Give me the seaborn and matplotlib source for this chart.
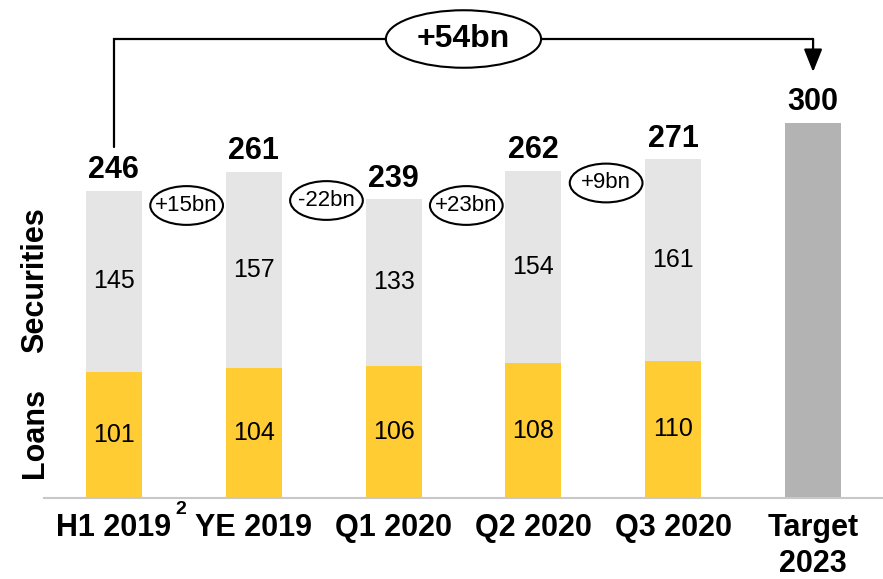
import numpy as np
import pandas as pd
import matplotlib.pyplot as plt
import seaborn as sns
from matplotlib.patches import Ellipse

# Daten (in bn)
periods = ["H1 2019", "YE 2019", "Q1 2020", "Q2 2020", "Q3 2020", "Target\n2023"]
totals = [246, 261, 239, 262, 271, 300]
loans = [101, 104, 106, 108, 110, np.nan]
securities = [145, 157, 133, 154, 161, np.nan]

sns.set_style("white")
plt.rcParams['font.family'] = ['Liberation Sans', 'DejaVu Sans']
plt.rcParams['text.color'] = 'black'
plt.rcParams['xtick.color'] = 'black'

YELLOW = '#FFCC33'
LIGHT = '#E5E5E5'
DARK = '#B3B3B3'

df = pd.DataFrame({'period': periods, 'total': totals, 'loans': loans, 'securities': securities})

fig = plt.figure(figsize=(8.83, 5.79), dpi=100)
ax = fig.add_axes([44/883, 81/579, 839/883, 498/579])

# Gesamtbalken (grau), darüber Loans (gelb)
sns.barplot(data=df, x='period', y='total', hue='period', order=periods,
            palette=[LIGHT]*5 + [DARK], width=0.4, saturation=1, legend=False,
            linewidth=0, ax=ax)
sns.barplot(data=df, x='period', y='loans', order=periods, color=YELLOW,
            width=0.4, saturation=1, linewidth=0, ax=ax)

# Werte in den Segmenten
for i in range(len(periods)):
    if not np.isnan(loans[i]):
        ax.text(i, loans[i]/2, f"{int(loans[i])}", ha='center', va='center', fontsize=18)
        ax.text(i, loans[i] + securities[i]/2, f"{int(securities[i])}", ha='center', va='center', fontsize=18)
    ax.annotate(f"{totals[i]}", xy=(i, totals[i]), xytext=(0, 9), textcoords='offset points',
                ha='center', va='baseline', fontsize=22, fontweight='bold')

# Veränderungen zwischen den Quartalen
delta_y = [234, 238, 234, 252]
for i in range(4):
    d = totals[i+1] - totals[i]
    x = i + 0.52
    ax.add_patch(Ellipse((x, delta_y[i]), 0.52, 31, facecolor='white', edgecolor='black', lw=1.5, zorder=3))
    ax.text(x, delta_y[i], f"{d:+d}bn", ha='center', va='center', fontsize=16, zorder=4)

# Klammer H1 2019 -> Target
top = 367.2
ax.plot([0, 0, 5], [280.8, top, top], color='black', lw=1.6, solid_joinstyle='miter', zorder=2)
ax.annotate('', xy=(5, 340.8), xytext=(5, top),
            arrowprops=dict(arrowstyle='-|>,head_length=0.7,head_width=0.28', mutation_scale=20,
                            color='black', lw=1.6, shrinkA=0, shrinkB=0))
ax.add_patch(Ellipse((2.5, top), 1.11, 46, facecolor='white', edgecolor='black', lw=1.5, zorder=3))
ax.text(2.5, top, f"{totals[-1] - totals[0]:+d}bn", ha='center', va='center',
        fontsize=23, fontweight='bold', zorder=4)

ax.set_xlim(-0.5, 5.5)
ax.set_ylim(0, 398.4)
ax.set_yticks([])
ax.set_xlabel('')
ax.set_ylabel('')
for s in ['left', 'top', 'right']:
    ax.spines[s].set_visible(False)
ax.spines['bottom'].set_color('#C8C8C8')
ax.spines['bottom'].set_linewidth(1.5)
ax.tick_params(axis='x', length=0, pad=11, labelsize=22)
for lbl in ax.get_xticklabels():
    lbl.set_fontweight('bold')
    lbl.set_linespacing(1.25)

# Fußnote und Achsenbeschriftungen
fig.text(181/883, 1 - 509/579, '2', ha='center', va='center', fontsize=14, fontweight='bold')
fig.text(35/883, 1 - 280/579, 'Securities', rotation=90, ha='center', va='center',
         fontsize=22, fontweight='bold')
fig.text(35/883, 1 - 433/579, 'Loans', rotation=90, ha='center', va='center',
         fontsize=22, fontweight='bold')

plt.savefig('out.png', dpi=100)
plt.close()
